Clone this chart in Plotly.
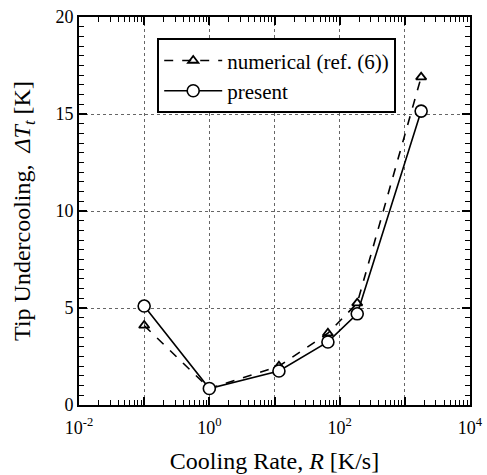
import plotly.graph_objects as go

# data
rate_num = [0.1, 1.0, 11.7, 66, 186, 1780]
dT_num = [4.1, 0.85, 2.0, 3.7, 5.25, 16.9]
rate_pre = [0.1, 1.0, 11.7, 66, 186, 1780]
dT_pre = [5.1, 0.85, 1.75, 3.25, 4.7, 15.15]
name_num = "numerical (ref. (6))"
name_pre = "present"
x_major = [0.01, 0.1, 1, 10, 100, 1000, 10000]
x_labels = ["10<sup>-2</sup>", "", "10<sup>0</sup>", "", "10<sup>2</sup>", "", "10<sup>4</sup>"]

font = "Liberation Serif"

fig = go.Figure()
fig.add_trace(go.Scatter(
    x=rate_num, y=dT_num, name=name_num, mode="lines+markers",
    line=dict(color="black", width=1.6, dash="dash"),
    marker=dict(symbol="triangle-up-open", size=9, color="black", line=dict(width=1.8)),
))
fig.add_trace(go.Scatter(
    x=rate_pre, y=dT_pre, name=name_pre, mode="lines+markers",
    line=dict(color="black", width=1.6),
    marker=dict(symbol="circle", size=12, color="white", line=dict(width=1.6, color="black")),
))

minor_x = [m * 10.0 ** e for e in range(-2, 4) for m in range(2, 10)]

tick_common = dict(ticks="inside", ticklen=8, tickwidth=1.5, tickcolor="black")
minor_x_cfg = dict(tickvals=minor_x, ticks="inside", ticklen=5, tickwidth=1.2, tickcolor="black", showgrid=False)
minor_y_cfg = dict(dtick=0.5, ticks="inside", ticklen=5, tickwidth=1.2, tickcolor="black", showgrid=False)

fig.update_layout(
    width=487, height=475,
    margin=dict(l=79, r=17, t=17, b=70),
    paper_bgcolor="white", plot_bgcolor="white",
    font=dict(family=font, size=18, color="black"),
    showlegend=True,
    legend=dict(x=0.2, y=0.945, xanchor="left", yanchor="top",
                bordercolor="black", borderwidth=2, bgcolor="white",
                font=dict(size=21, family=font, color="black"), tracegroupgap=0,
                itemwidth=58),
    xaxis=dict(
        type="log", range=[-2, 4], automargin=False,
        tickmode="array", tickvals=x_major, ticktext=x_labels,
        **tick_common,
        showline=True, linewidth=2, linecolor="black", mirror="ticks",
        showgrid=True, gridcolor="#666", griddash="dot", gridwidth=1,
        zeroline=False, ticklabeloverflow="allow", ticklabelstandoff=5,
        tickfont=dict(size=18, family=font, color="black"),
        minor=minor_x_cfg,
        title=dict(text="Cooling Rate, <i>R</i> [K/s]", font=dict(size=24, family=font, color="black"), standoff=16),
    ),
    yaxis=dict(
        range=[0, 20], tickmode="linear", tick0=0, dtick=5, automargin=False,
        **tick_common,
        showline=True, linewidth=2, linecolor="black", mirror="ticks",
        showgrid=True, gridcolor="#666", griddash="dot", gridwidth=1,
        zeroline=False,
        tickfont=dict(size=18, family=font, color="black"),
        minor=minor_y_cfg,
        title=dict(text="Tip Undercooling,  <i>ΔT<sub>t</sub></i> [K]", font=dict(size=24, family=font, color="black"), standoff=18),
    ),
)

fig.write_html("out.html", config={"displayModeBar": False},
               post_script="document.body.style.margin='0';")
